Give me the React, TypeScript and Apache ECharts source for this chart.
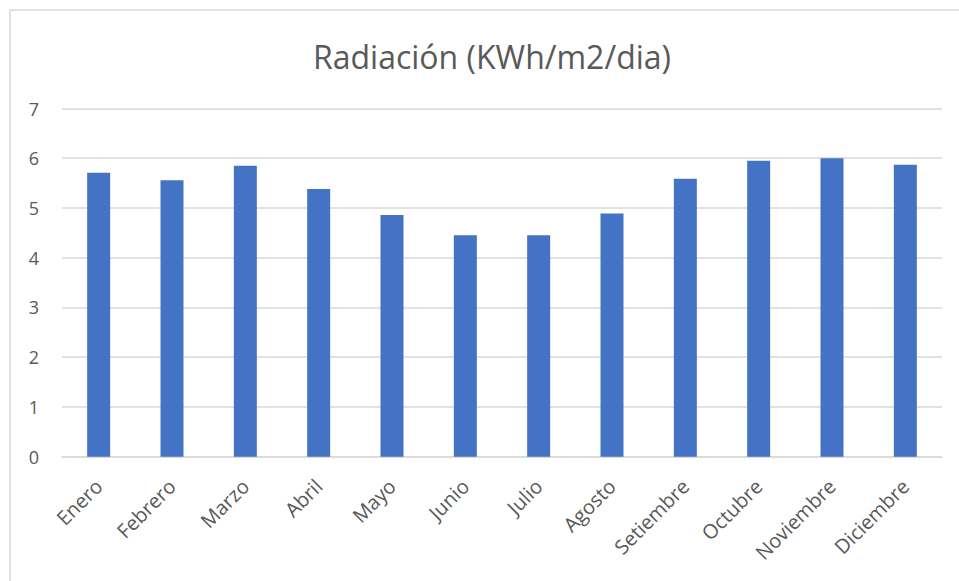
import React, { useEffect, useRef } from "react";
import * as echarts from "echarts";

const months = ["Enero", "Febrero", "Marzo", "Abril", "Mayo", "Junio", "Julio", "Agosto", "Setiembre", "Octubre", "Noviembre", "Diciembre"];
const radiation = [5.71, 5.56, 5.85, 5.38, 4.86, 4.45, 4.45, 4.89, 5.59, 5.95, 6.0, 5.87];
const titleText = "Radiación (KWh/m2/dia)";

export default function App() {
  const ref = useRef<HTMLDivElement>(null);
  useEffect(() => {
    if (!ref.current) return;
    const chart = echarts.init(ref.current, null, { renderer: "svg" });
    const font = "'Open Sans', 'Noto Sans', sans-serif";
    chart.setOption({
      animation: false,
      backgroundColor: "#ffffff",
      graphic: [
        {
          type: "rect",
          shape: { x: 10, y: 10, width: 1000, height: 700 },
          style: { fill: "none", stroke: "#d9d9d9", lineWidth: 1.5 },
          silent: true,
        },
        {
          type: "text",
          x: 492,
          y: 56,
          style: {
            text: titleText,
            align: "center",
            verticalAlign: "middle",
            fontFamily: font,
            fontSize: 32,
            fill: "#595959",
          },
          silent: true,
        },
      ],
      grid: { left: 62, right: 17, top: 108.5, bottom: 124.3, containLabel: false },
      xAxis: {
        type: "category",
        data: months,
        axisLine: { lineStyle: { color: "#d9d9d9", width: 1.5 } },
        axisTick: { show: false },
        axisLabel: { rotate: 45, margin: 26, fontFamily: font, fontSize: 20, color: "#595959", interval: 0 },
      },
      yAxis: {
        type: "value",
        min: 0,
        max: 7,
        interval: 1,
        axisLine: { show: false },
        axisTick: { show: false },
        splitLine: { lineStyle: { color: "#d9d9d9", width: 1.5 } },
        axisLabel: { margin: 23, fontFamily: font, fontSize: 18, color: "#595959" },
      },
      series: [
        {
          type: "bar",
          data: radiation,
          barWidth: 23,
          itemStyle: { color: "#4472C4" },
        },
      ],
    });
    return () => chart.dispose();
  }, []);
  return <div ref={ref} style={{ position: "fixed", left: 0, top: 0, width: 959, height: 581 }} />;
}
